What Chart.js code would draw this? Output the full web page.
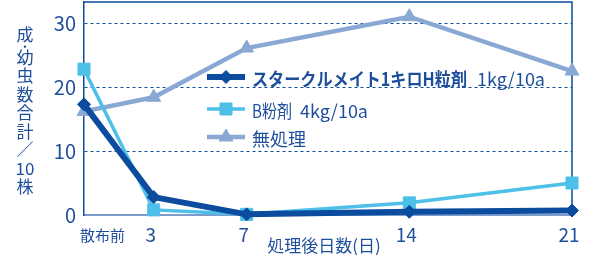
<!DOCTYPE html>
<html>
<head>
<meta charset="utf-8">
<script src="https://cdn.jsdelivr.net/npm/chart.js@4/dist/chart.umd.min.js"></script>
<style>
  html, body { margin: 0; padding: 0; background: #fff; }
  #wrap { width: 590px; height: 257px; }
</style>
</head>
<body>
<div id="wrap"><canvas id="chart" width="590" height="257"></canvas></div>
<script>
// データ
const days = [0, 3, 7, 14, 21];
const dayLabels = ['散布前', '3', '7', '14', '21'];
const yTicks = [0, 10, 20, 30];

const seriesNames = ['スタークルメイト1キロH粒剤', 'B粉剤', '無処理'];
const seriesDoses = ['1kg/10a', '4kg/10a', ''];
const starkle = [17.3, 2.8, 0.1, 0.5, 0.7];
const bFunzai = [22.8, 0.8, 0.1, 1.9, 5.0];
const mushori = [16.2, 18.4, 26.1, 31.0, 22.5];

const yTitle = ['成', '·', '幼', '虫', '数', '合', '計', '／', '10', '株'];
const xTitle = '処理後日数(日)';

const TEXT = '#1d4f9c';
const DARK = '#0b4c9e';
const LIGHT = '#4dbfe9';
const GREY = '#8aa8d4';
const AXIS = '#7c9dcc';
const FONT = '"Noto Sans CJK JP", "Noto Sans", sans-serif';

const toXY = vals => vals.map((v, i) => ({ x: days[i], y: v }));

// 枠線（上・右）
const framePlugin = {
    id: 'frame',
    beforeDatasetsDraw(chart) {
        const { ctx, chartArea: a } = chart;
        ctx.save();
        ctx.strokeStyle = DARK;
        ctx.lineWidth = 1.5;
        ctx.beginPath();
        ctx.moveTo(a.left, a.top);
        ctx.lineTo(a.right, a.top);
        ctx.lineTo(a.right, a.bottom);
        ctx.stroke();
        ctx.restore();
    }
};

// 凡例の文字幅（元図に合わせて詰める）
const legendRows = [
    { y: 77, nameW: 215, doseX: 477, doseW: 73 },
    { y: 109, nameW: 40, doseX: 300, doseW: 93 },
    { y: 137, nameW: 56 }
];

// 軸ラベル・凡例
const labelsPlugin = {
    id: 'labels',
    afterDraw(chart) {
        const { ctx, scales } = chart;
        ctx.save();
        ctx.fillStyle = TEXT;
        ctx.textBaseline = 'middle';

        // x 目盛
        dayLabels.forEach((lab, i) => {
            const px = scales.x.getPixelForValue(days[i]);
            if (i === 0) {
                ctx.font = '15px ' + FONT;
                ctx.textAlign = 'left';
                ctx.fillText(lab, px - 4, 235);
            } else {
                ctx.font = '19px ' + FONT;
                ctx.textAlign = 'center';
                ctx.fillText(lab, px - 3, 235);
            }
        });

        // x タイトル
        ctx.font = '17px ' + FONT;
        ctx.textAlign = 'center';
        ctx.fillText(xTitle, 324, 246);

        // y タイトル（縦書き）
        ctx.font = '17px ' + FONT;
        let y = 35;
        yTitle.forEach((ch, i) => {
            const adv = ch === '·' ? 2 : 9.25;
            if (i > 0) y += adv;
            ctx.fillText(ch, 25, y);
            y += adv;
        });

        // 凡例
        chart.data.datasets.forEach((ds, i) => {
            const r = legendRows[i];
            ctx.strokeStyle = ds.borderColor;
            ctx.lineWidth = ds.borderWidth;
            ctx.beginPath();
            ctx.moveTo(207, r.y);
            ctx.lineTo(245, r.y);
            ctx.stroke();
            ctx.fillStyle = ds.pointBackgroundColor;
            ctx.strokeStyle = ds.pointBorderColor;
            ctx.lineWidth = 1;
            Chart.helpers.drawPoint(ctx, { pointStyle: ds.pointStyle, radius: ds.pointRadius, borderWidth: 1 }, 226, r.y);

            ctx.fillStyle = TEXT;
            ctx.textAlign = 'left';
            ctx.font = (i === 0 ? 'bold ' : '') + '18px ' + FONT;
            ctx.fillText(seriesNames[i], 252, r.y + 2, r.nameW);
            if (seriesDoses[i]) {
                ctx.font = '18px ' + FONT;
                ctx.fillText(seriesDoses[i], r.doseX, r.y + 2, r.doseW);
            }
        });
        ctx.restore();
    }
};

new Chart(document.getElementById('chart'), {
    type: 'line',
    data: {
        datasets: [
            {
                label: seriesNames[0], data: toXY(starkle),
                borderColor: DARK, borderWidth: 6,
                pointStyle: 'rectRot', pointRadius: 6.5,
                pointBackgroundColor: DARK, pointBorderColor: DARK, pointBorderWidth: 1,
                clip: false
            },
            {
                label: seriesNames[1], data: toXY(bFunzai),
                borderColor: LIGHT, borderWidth: 3.5,
                pointStyle: 'rect', pointRadius: 8.5,
                pointBackgroundColor: LIGHT, pointBorderColor: LIGHT, pointBorderWidth: 1,
                clip: false
            },
            {
                label: seriesNames[2], data: toXY(mushori),
                borderColor: GREY, borderWidth: 4.5,
                pointStyle: 'triangle', pointRadius: 8,
                pointBackgroundColor: GREY, pointBorderColor: GREY, pointBorderWidth: 1,
                clip: false
            }
        ]
    },
    options: {
        responsive: false,
        animation: false,
        layout: { autoPadding: false, padding: { left: 0, top: 2, right: 18, bottom: 0 } },
        plugins: {
            legend: { display: false },
            tooltip: { enabled: false }
        },
        scales: {
            x: {
                type: 'linear', min: 0, max: 21,
                ticks: { display: false },
                grid: { display: false },
                border: { color: AXIS, width: 2 },
                afterFit: s => { s.height = 42; s.paddingLeft = 0; s.paddingRight = 0; }
            },
            y: {
                min: 0, max: 33.3,
                afterBuildTicks: s => { s.ticks = yTicks.map(v => ({ value: v })); },
                ticks: { color: TEXT, font: { size: 20, family: FONT }, padding: 8 },
                grid: {
                    drawTicks: false,
                    color: c => (c.tick && c.tick.value === 0) ? 'rgba(0,0,0,0)' : DARK,
                    lineWidth: 1
                },
                border: { color: DARK, width: 1.5, dash: [3, 3] },
                afterFit: s => { s.width = 84; s.paddingTop = 0; s.paddingBottom = 0; }
            }
        }
    },
    plugins: [framePlugin, labelsPlugin]
});
</script>
</body>
</html>
